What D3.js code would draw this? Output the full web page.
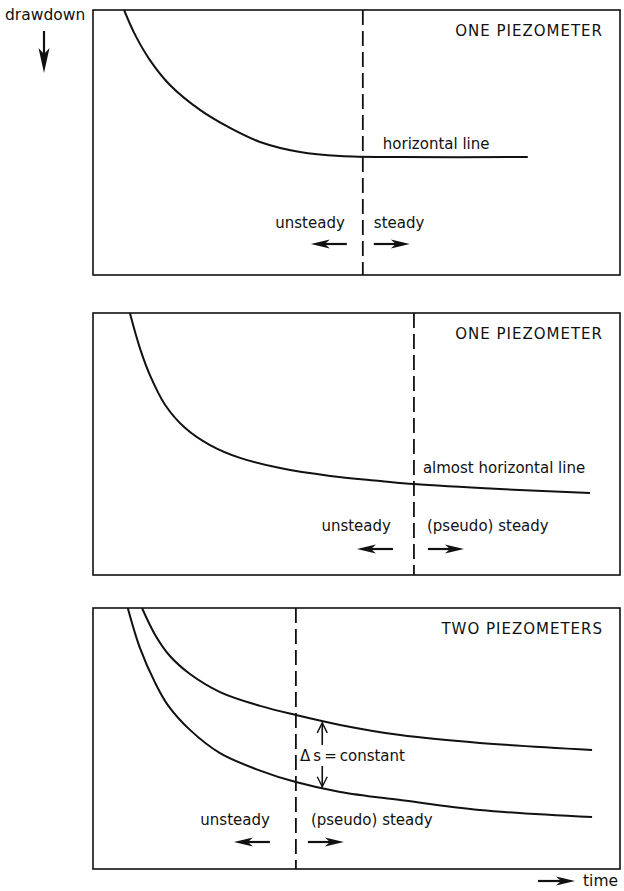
<!DOCTYPE html>
<html>
<head>
<meta charset="utf-8">
<script src="https://cdn.jsdelivr.net/npm/d3@7"></script>
<style>
  html, body { margin: 0; padding: 0; background: #fff; }
  svg text { font-family: "DejaVu Sans", sans-serif; fill: #111; }
</style>
</head>
<body>
<svg id="chart"></svg>
<script>
// ── data (time / drawdown in relative units, 0-100 across each frame) ─────
const panelTitles = ["ONE PIEZOMETER", "ONE PIEZOMETER", "TWO PIEZOMETERS"];

const timeP1 = [5.9, 8.0, 10.8, 14.6, 20.3, 26.0, 31.7, 39.3, 46.9, 58.3, 82.5];
const drawP1 = [0, 9.4, 18.9, 28.3, 37.7, 44.5, 49.8, 53.6, 55.1, 55.5, 55.5];

const timeP2 = [7.0, 8.9, 10.8, 13.7, 17.5, 22.2, 27.9, 35.5, 45.0, 54.5, 60.9, 77.2, 94.3];
const drawP2 = [0, 13.4, 23.7, 35.1, 43.9, 50.4, 55.3, 59.2, 62.2, 64.1, 65.3, 67.2, 68.7];

const timeP3Upper = [9.3, 11.8, 14.6, 18.4, 24.1, 31.7, 38.5, 46.9, 58.3, 73.4, 94.7];
const drawP3Upper = [0, 10.3, 18.4, 25.3, 32.2, 37.5, 41.0, 44.8, 48.7, 51.7, 54.4];
const timeP3Lower = [6.6, 8.9, 11.8, 14.2, 18.4, 24.1, 31.7, 38.5, 46.9, 58.3, 73.4, 94.7];
const drawP3Lower = [0, 15.3, 28.7, 37.2, 46.7, 55.6, 62.3, 66.7, 70.5, 73.6, 77.4, 80.1];

// time where unsteady turns (pseudo) steady
const switchTime = [51.2, 60.9, 38.5];
const leftLabels  = ["unsteady", "unsteady", "unsteady"];
const rightLabels = ["steady", "(pseudo) steady", "(pseudo) steady"];

// ── geometry ──────────────────────────────────────────────────────────────
const W = 624, H = 891;
const frameX = [93, 620];
const frames = [
  { top: 10,  bottom: 275, lblGap: [18, 11], arrGap: [16, 11], lblY: 47, arrY: 31 },
  { top: 313, bottom: 575, lblGap: [23, 13], arrGap: [21, 14], lblY: 44, arrY: 26 },
  { top: 608, bottom: 869, lblGap: [26, 15], arrGap: [26, 12], lblY: 44, arrY: 27 }
];
const arrowLen = 36;
const fs = "15px";

const svg = d3.select("#chart").attr("width", W).attr("height", H);

const x = d3.scaleLinear().domain([0, 100]).range(frameX);

const line = d3.line().curve(d3.curveCatmullRom.alpha(0.5));

function zip(ts, ds) { return ts.map((t, i) => [t, ds[i]]); }

const curves = [
  [zip(timeP1, drawP1)],
  [zip(timeP2, drawP2)],
  [zip(timeP3Upper, drawP3Upper), zip(timeP3Lower, drawP3Lower)]
];

// horizontal arrow, tip at (tx, y), dir = +1 right / -1 left
function hArrow(g, tx, y, dir, len) {
  const tail = tx - dir * len;
  g.append("line")
    .attr("x1", tail).attr("x2", tx - dir * 12)
    .attr("y1", y).attr("y2", y)
    .attr("stroke", "#111").attr("stroke-width", 2.2);
  g.append("path")
    .attr("d", `M${tx},${y} L${tx - dir * 19},${y - 4.5} L${tx - dir * 14},${y} L${tx - dir * 19},${y + 4.5} Z`)
    .attr("fill", "#111");
}

frames.forEach((f, i) => {
  const y = d3.scaleLinear().domain([0, 100]).range([f.top, f.bottom]);
  const g = svg.append("g");

  const clipId = `clip${i}`;
  svg.append("clipPath").attr("id", clipId)
    .append("rect")
    .attr("x", frameX[0]).attr("y", f.top)
    .attr("width", frameX[1] - frameX[0]).attr("height", f.bottom - f.top);

  // frame
  g.append("rect")
    .attr("x", frameX[0]).attr("y", f.top)
    .attr("width", frameX[1] - frameX[0]).attr("height", f.bottom - f.top)
    .attr("fill", "none").attr("stroke", "#111").attr("stroke-width", 1.6);

  // drawdown curves
  curves[i].forEach(pts => {
    g.append("path")
      .attr("clip-path", `url(#${clipId})`)
      .attr("d", line(pts.map(p => [x(p[0]), y(p[1])])))
      .attr("fill", "none").attr("stroke", "#111").attr("stroke-width", 2);
  });

  // dashed divider
  const sx = x(switchTime[i]);
  g.append("line")
    .attr("x1", sx).attr("x2", sx)
    .attr("y1", f.top).attr("y2", f.bottom)
    .attr("stroke", "#111").attr("stroke-width", 1.8)
    .attr("stroke-dasharray", "15,6");

  // title
  g.append("text")
    .attr("x", 603).attr("y", f.top + 26)
    .attr("text-anchor", "end")
    .style("font-size", fs).style("letter-spacing", "1px")
    .text(panelTitles[i]);

  // regime labels + arrows
  const ly = f.bottom - f.lblY;
  g.append("text").attr("x", sx - f.lblGap[0]).attr("y", ly)
    .attr("text-anchor", "end").style("font-size", fs).text(leftLabels[i]);
  g.append("text").attr("x", sx + f.lblGap[1]).attr("y", ly)
    .style("font-size", fs).text(rightLabels[i]);

  const ay = f.bottom - f.arrY;
  hArrow(g, sx - f.arrGap[0] - arrowLen, ay, -1, arrowLen);
  hArrow(g, sx + f.arrGap[1] + arrowLen, ay, 1, arrowLen);

  // extra annotations
  if (i === 0) {
    g.append("text").attr("x", x(55.0)).attr("y", y(53.6) - 3)
      .style("font-size", fs).text("horizontal line");
  }
  if (i === 1) {
    g.append("text").attr("x", x(62.6)).attr("y", y(62.2) - 3)
      .style("font-size", fs).text("almost horizontal line");
  }
  if (i === 2) {
    const dt = 43.5;
    const yu = y(44.0), yl = y(68.5);
    const ty = y(58.6);
    // vertical double arrow, broken where the label sits
    [[yu, ty - 16], [ty + 5, yl]].forEach(([a, b]) => {
      g.append("line").attr("x1", x(dt)).attr("x2", x(dt))
        .attr("y1", a).attr("y2", b)
        .attr("stroke", "#111").attr("stroke-width", 1.6);
    });
    [[yu, 1], [yl, -1]].forEach(([yy, d]) => {
      g.append("path")
        .attr("d", `M${x(dt) - 5},${yy + d * 10} L${x(dt)},${yy} L${x(dt) + 5},${yy + d * 10}`)
        .attr("fill", "none").attr("stroke", "#111").attr("stroke-width", 1.4);
    });
    g.append("text").attr("x", x(39.3)).attr("y", ty)
      .style("font-size", fs).text("\u0394\u2009s\u2009=\u2009constant");
  }
});

// axis captions
svg.append("text").attr("x", 5).attr("y", 20)
  .style("font-size", "15.5px").text("drawdown");
// down arrow
svg.append("line").attr("x1", 44).attr("x2", 44).attr("y1", 31).attr("y2", 58)
  .attr("stroke", "#111").attr("stroke-width", 2.2);
svg.append("path")
  .attr("d", "M44,73 L38.5,48 L44,54 L49.5,48 Z").attr("fill", "#111");

svg.append("text").attr("x", 583).attr("y", 886)
  .style("font-size", "15.5px").text("time");
hArrow(svg, 575, 881, 1, 37);
</script>
</body>
</html>
